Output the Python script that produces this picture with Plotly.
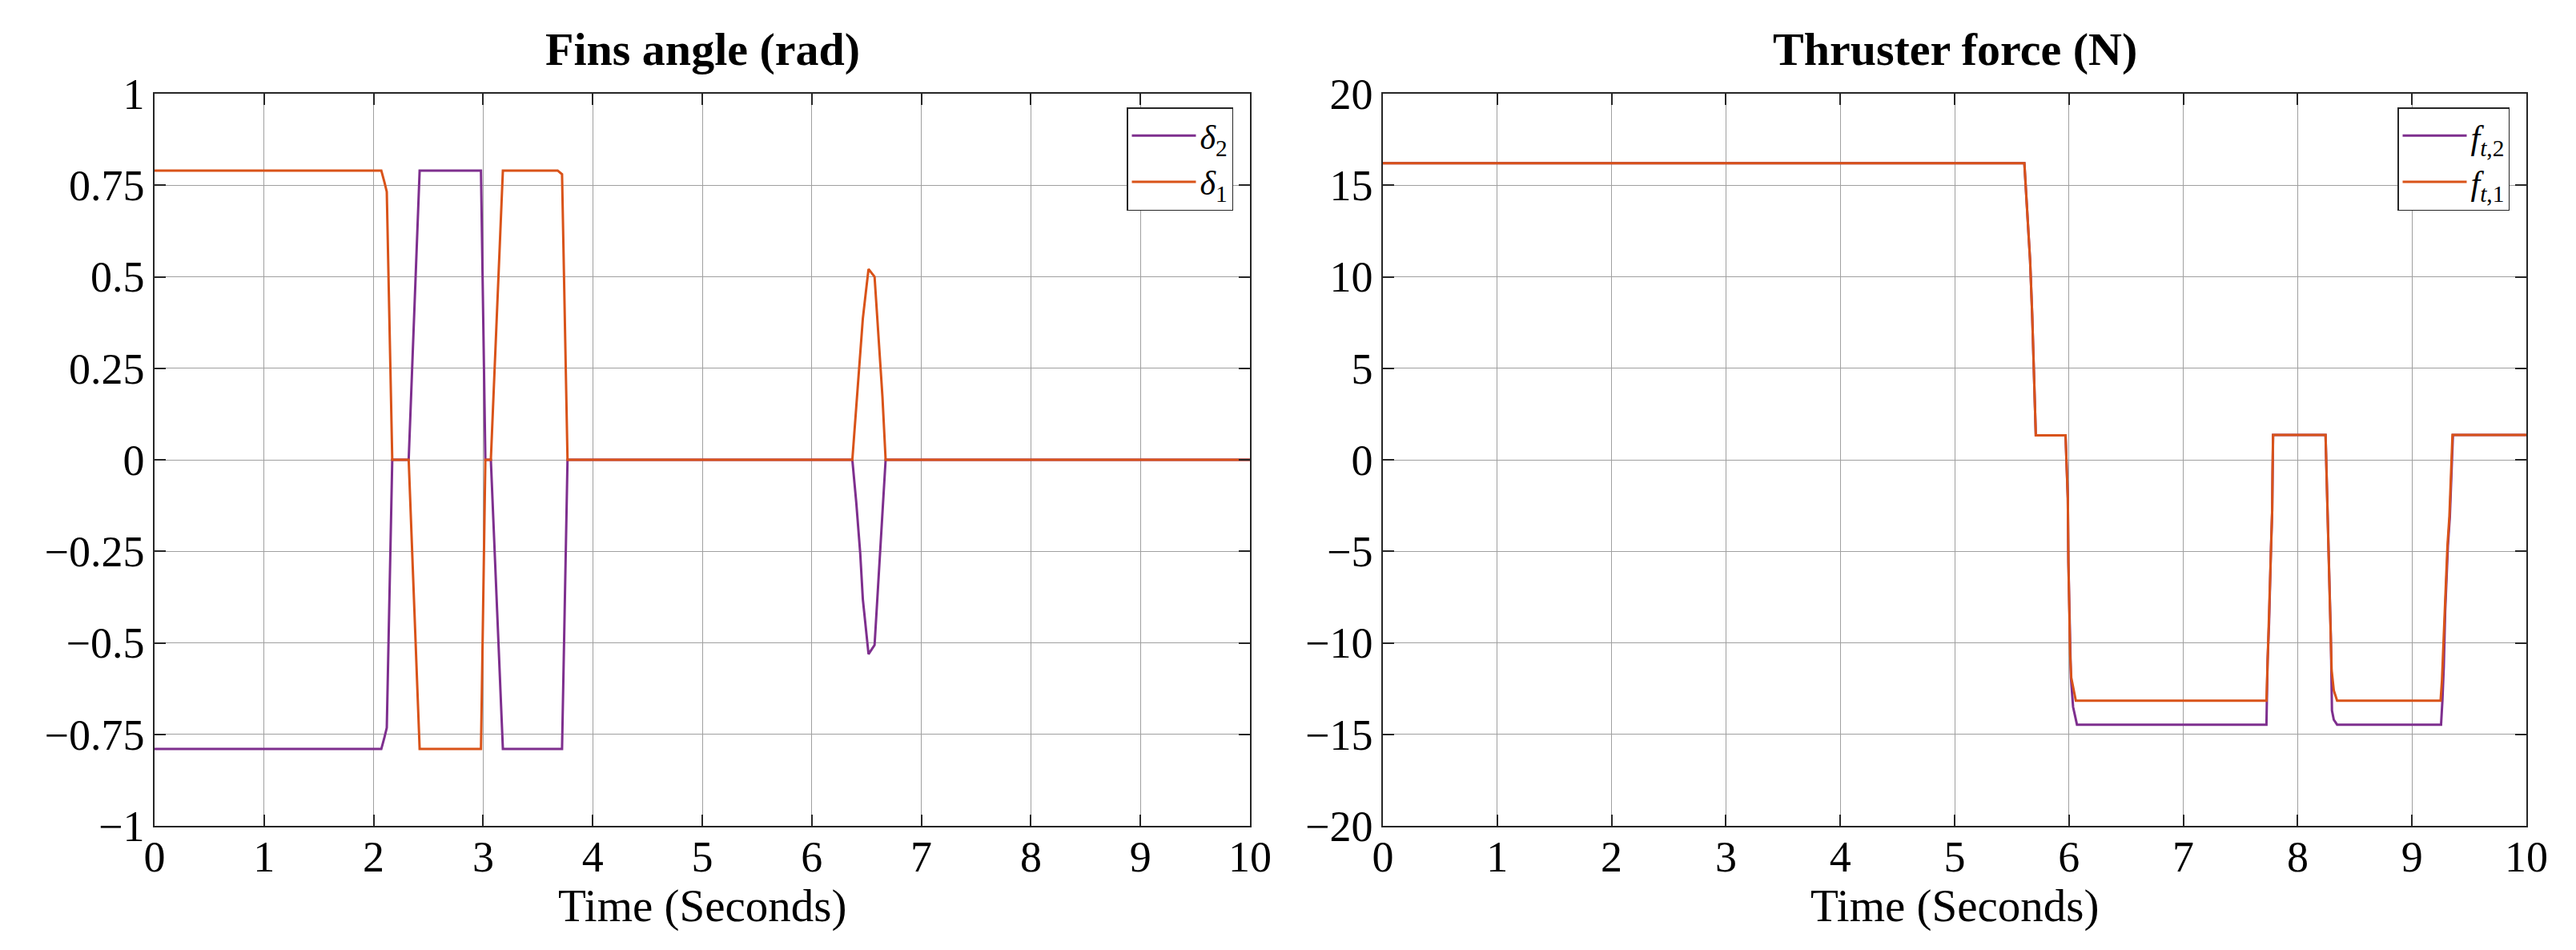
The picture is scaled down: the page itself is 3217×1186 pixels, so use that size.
import plotly.graph_objects as go

# ── data ──
# left panel: fin angles (rad)
t_delta1 = [0, 2.07, 2.10, 2.12, 2.17, 2.32, 2.42, 2.98, 3.02, 3.07, 3.18, 3.68, 3.72, 3.77,
            6.37, 6.394, 6.43, 6.466, 6.49, 6.518, 6.573, 6.609, 6.645, 6.674, 10]
delta1 = [0.79, 0.79, 0.757, 0.732, 0, 0, -0.79, -0.79, 0, 0, 0.79, 0.79, 0.78, 0,
          0, 0.097, 0.222, 0.386, 0.449, 0.521, 0.5, 0.323, 0.172, 0, 0]

t_delta2 = [0, 2.07, 2.10, 2.12, 2.17, 2.32, 2.42, 2.98, 3.02, 3.07, 3.18, 3.72, 3.77,
            6.37, 6.406, 6.442, 6.466, 6.49, 6.518, 6.573, 6.597, 6.633, 6.674, 10]
delta2 = [-0.79, -0.79, -0.757, -0.732, 0, 0, 0.79, 0.79, 0, 0, -0.79, -0.79, 0,
          0, -0.117, -0.255, -0.381, -0.456, -0.531, -0.506, -0.381, -0.205, 0, 0]

# right panel: thruster forces (N)
t_f1 = [0, 5.61, 5.625, 5.64, 5.66, 5.678, 5.69, 5.705, 5.71, 5.97, 5.98, 5.99, 5.995, 6.003,
        6.01, 6.02, 6.04, 6.06, 7.727, 7.737, 7.75, 7.757, 7.767, 7.777, 7.78, 7.785,
        8.244, 8.249, 8.256, 8.266, 8.273, 8.28, 8.29, 8.297, 8.316, 8.345,
        9.25, 9.262, 9.274, 9.286, 9.298, 9.31, 9.327, 9.34, 9.354, 10]
f1 = [16.2, 16.2, 14.6, 13.0, 10.9, 8.0, 5.3, 2.4, 1.33, 1.33, -0.27, -2.1, -5.6, -8.5,
      -10.6, -11.9, -12.5, -13.16, -13.16, -10.96, -8.9, -6.9, -4.75, -2.8, -0.73, 1.36,
      1.36, 0.15, -1.75, -3.8, -5.7, -7.6, -9.6, -11.5, -12.6, -13.16,
      -13.16, -12.06, -10.2, -8.3, -6.5, -4.7, -3.1, -0.9, 1.36, 1.36]

t_f2 = [0, 5.61, 5.625, 5.64, 5.66, 5.678, 5.69, 5.705, 5.71, 5.97, 5.98, 5.99, 5.995, 6.003,
        6.017, 6.036, 6.05, 6.07, 7.727, 7.737, 7.75, 7.757, 7.767, 7.777, 7.78, 7.785,
        8.244, 8.249, 8.256, 8.266, 8.273, 8.28, 8.29, 8.3, 8.316, 8.345,
        9.254, 9.266, 9.278, 9.29, 9.302, 9.314, 9.331, 9.344, 9.358, 10]
f2 = [16.2, 16.2, 14.6, 13.0, 10.9, 8.0, 5.3, 2.4, 1.33, 1.33, -0.27, -2.1, -5.6, -8.5,
      -11.9, -13.5, -13.9, -14.47, -14.47, -10.96, -8.9, -6.9, -4.75, -2.8, -0.73, 1.36,
      1.36, 0.15, -1.75, -3.8, -5.7, -7.6, -9.6, -13.7, -14.2, -14.47,
      -14.47, -13.16, -11.3, -8.3, -6.5, -4.7, -3.1, -0.9, 1.36, 1.36]

x_ticks = list(range(0, 11))
left_ticks = [-1, -0.75, -0.5, -0.25, 0, 0.25, 0.5, 0.75, 1]
left_labels = ["\u22121", "\u22120.75", "\u22120.5", "\u22120.25", "0", "0.25", "0.5", "0.75", "1"]
right_ticks = [-20, -15, -10, -5, 0, 5, 10, 15, 20]
right_labels = ["\u221220", "\u221215", "\u221210", "\u22125", "0", "5", "10", "15", "20"]

PURPLE = "#7E2F8E"
ORANGE = "#D95319"
FONT = "Liberation Serif, Times New Roman, serif"
W, H = 3217, 1186
OFF = 8  # page body margin

fig = go.Figure()

fig.add_trace(go.Scatter(x=t_delta2, y=delta2, mode="lines", name="<i>δ</i><sub>2</sub>",
                         line=dict(color=PURPLE, width=3), xaxis="x", yaxis="y", legend="legend"))
fig.add_trace(go.Scatter(x=t_delta1, y=delta1, mode="lines", name="<i>δ</i><sub>1</sub>",
                         line=dict(color=ORANGE, width=3), xaxis="x", yaxis="y", legend="legend"))
fig.add_trace(go.Scatter(x=t_f2, y=f2, mode="lines", name="<i>f</i><sub><i>t</i>,2</sub>",
                         line=dict(color=PURPLE, width=3), xaxis="x2", yaxis="y2", legend="legend2"))
fig.add_trace(go.Scatter(x=t_f1, y=f1, mode="lines", name="<i>f</i><sub><i>t</i>,1</sub>",
                         line=dict(color=ORANGE, width=3), xaxis="x2", yaxis="y2", legend="legend2"))

axis_common = dict(
    showline=True, linecolor="#262626", linewidth=1.5, mirror="ticks",
    ticks="inside", ticklen=14, tickwidth=1.5, tickcolor="#262626",
    showgrid=True, gridcolor="#a0a0a0", gridwidth=1.3, zeroline=False,
    tickfont=dict(family=FONT, size=54, color="black"), automargin=False,
)


def px(x):
    return (x - OFF) / W


def py(y):
    return 1 - (y - OFF) / H


# plot areas in pixels (left, right, top, bottom)
L1, R1 = 193, 1561
L2, R2 = 1727, 3155
TOP, BOT = 117, 1031
ydom = [py(BOT), py(TOP)]


def label(text, xc, yc, size, bold=False):
    return dict(text=f"<b>{text}</b>" if bold else text, x=px(xc), y=py(yc),
                xref="paper", yref="paper", showarrow=False,
                font=dict(family=FONT, size=size, color="black"),
                xanchor="center", yanchor="middle")


fig.update_layout(
    width=W, height=H,
    margin=dict(l=0, r=0, t=0, b=0, autoexpand=False),
    paper_bgcolor="white", plot_bgcolor="white",
    font=dict(family=FONT, color="black"),
    xaxis=dict(axis_common, domain=[px(L1), px(R1)], range=[0, 10], tickvals=x_ticks,
               ticklabelstandoff=-10, anchor="y"),
    yaxis=dict(axis_common, domain=ydom, range=[-1, 1], tickvals=left_ticks, ticktext=left_labels,
               anchor="x"),
    xaxis2=dict(axis_common, domain=[px(L2), px(R2)], range=[0, 10], tickvals=x_ticks,
                ticklabelstandoff=-10, anchor="y2"),
    yaxis2=dict(axis_common, domain=ydom, range=[-20, 20], tickvals=right_ticks,
                ticktext=right_labels, anchor="x2"),
    legend=dict(x=px(1540), y=py(134), xanchor="right", yanchor="top",
                bgcolor="white", bordercolor="#262626", borderwidth=1.5,
                font=dict(family=FONT, size=42), itemwidth=80),
    legend2=dict(x=px(3134), y=py(134), xanchor="right", yanchor="top",
                 bgcolor="white", bordercolor="#262626", borderwidth=1.5,
                 font=dict(family=FONT, size=42), itemwidth=80),
    annotations=[
        label("Fins angle (rad)", (L1 + R1) / 2, 62, 58, bold=True),
        label("Thruster force (N)", (L2 + R2) / 2, 62, 58, bold=True),
        label("Time (Seconds)", (L1 + R1) / 2, 1131, 57),
        label("Time (Seconds)", (L2 + R2) / 2, 1131, 57),
    ],
)

fig.write_html("out.html")
